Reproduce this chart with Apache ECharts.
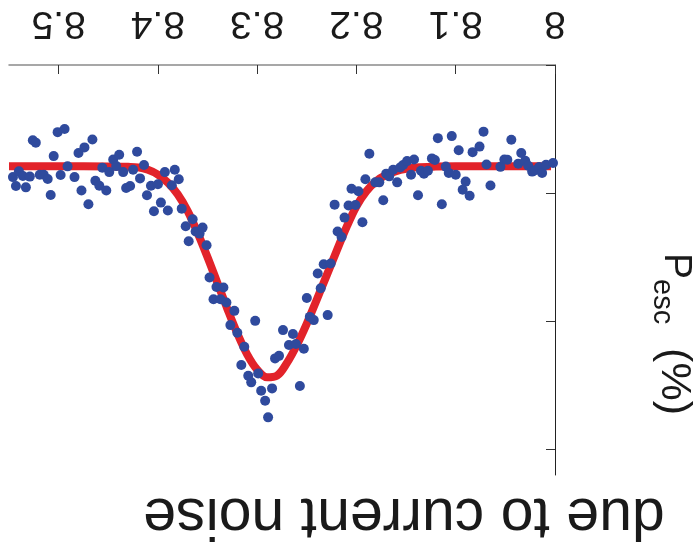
<!DOCTYPE html>
<html>
<head>
<meta charset="utf-8">
<script src="https://cdn.jsdelivr.net/npm/echarts@6/dist/echarts.min.js"></script>
<style>
  html, body { margin: 0; padding: 0; background: #ffffff; }
  #chart { width: 699px; height: 549px; }
</style>
</head>
<body>
<div id="chart"></div>
<script>
// Tick positions
const xTicks = [8.0, 8.1, 8.2, 8.3, 8.4, 8.5];
const yTicks = [0, 10, 20, 30];

// Measured escape probability (%) versus bias
const measX = [8.546,8.543,8.540,8.536,8.533,8.529,8.526,8.523,8.519,8.515,
  8.511,8.508,8.505,8.501,8.498,8.494,8.491,8.484,8.480,8.477,
  8.474,8.470,8.466,8.463,8.459,8.456,8.452,8.449,8.445,8.442,
  8.439,8.435,8.432,8.428,8.425,8.421,8.418,8.414,8.411,8.407,
  8.404,8.400,8.397,8.393,8.390,8.386,8.383,8.379,8.376,8.372,
  8.369,8.365,8.362,8.358,8.355,8.351,8.348,8.344,8.341,8.337,
  8.334,8.331,8.327,8.323,8.320,8.316,8.313,8.309,8.306,8.302,
  8.299,8.296,8.292,8.289,8.285,8.282,8.278,8.274,8.268,8.264,
  8.261,8.257,8.253,8.250,8.247,8.243,8.239,8.236,8.233,8.229,
  8.226,8.222,8.219,8.215,8.212,8.208,8.205,8.201,8.198,8.194,
  8.191,8.187,8.181,8.177,8.173,8.170,8.167,8.163,8.159,8.156,
  8.153,8.149,8.145,8.142,8.138,8.135,8.132,8.128,8.124,8.121,
  8.118,8.114,8.110,8.107,8.104,8.100,8.097,8.093,8.090,8.086,
  8.083,8.076,8.072,8.069,8.065,8.055,8.051,8.048,8.044,8.037,
  8.034,8.030,8.027,8.023,8.020,8.016,8.013,8.009,8.002];
const measY = [8.75,9.45,8.30,8.67,9.55,8.71,5.88,6.06,8.56,8.56,
  8.90,10.15,7.11,5.24,8.59,5.00,7.91,8.75,6.87,9.80,
  6.43,10.87,5.81,9.03,9.42,8.01,9.80,8.36,7.37,7.89,
  7.00,8.36,9.60,9.45,8.17,6.77,8.85,7.81,10.17,9.42,
  11.42,9.31,10.74,8.36,11.36,9.39,8.17,8.92,11.21,12.59,
  13.76,12.04,13.00,13.16,12.69,14.07,16.59,18.28,17.32,18.28,
  17.37,18.53,20.30,19.19,20.90,23.42,21.99,24.25,24.77,19.97,
  24.07,25.42,26.20,27.50,25.24,22.90,22.70,20.69,21.86,21.00,
  21.78,25.06,22.15,18.18,19.66,19.91,16.27,17.42,15.55,19.52,
  15.49,10.90,13.00,13.42,11.91,10.97,9.66,10.93,9.86,12.28,
  8.92,6.92,9.16,9.16,10.56,8.48,8.69,8.17,9.16,8.00,
  7.81,7.50,8.57,7.38,10.16,8.25,8.48,8.25,7.29,7.42,
  5.71,10.87,7.93,8.42,5.55,8.57,6.66,9.73,9.10,10.21,
  6.80,6.37,5.20,7.76,9.41,7.95,7.38,7.39,5.83,7.70,
  6.87,7.47,7.87,8.32,8.21,7.97,8.42,7.78,7.65];

// Fitted curve
const fitX = [8.55,8.50,8.45,8.43,8.42,8.41,8.40,8.39,8.38,8.37,8.36,8.35,8.34,8.33,8.32,8.31,8.30,8.29,8.28,
  8.27,8.26,8.25,8.24,8.23,8.22,8.21,8.20,8.19,8.18,8.17,8.16,8.15,8.14,8.12,8.10,8.05,8.004];
const fitY = [7.91,7.91,7.92,7.95,7.99,8.18,8.55,9.18,10.10,11.40,13.10,15.00,17.02,19.04,20.95,22.60,23.78,24.38,24.25,
  23.25,21.85,20.18,18.32,16.42,14.52,12.65,11.02,9.85,9.06,8.58,8.28,8.10,7.99,7.93,7.91,7.91,7.91];

const FONT = 'Liberation Sans, Arial, Helvetica, sans-serif';
const measData = measX.map((x, i) => [x, measY[i]]);
const fitData = fitX.map((x, i) => [x, fitY[i]]);

const chart = echarts.init(document.getElementById('chart'), null, { renderer: 'canvas' });
chart.setOption({
  animation: false,
  backgroundColor: '#ffffff',
  grid: { left: 9, right: 144, top: 65, bottom: 74, containLabel: false, outerBoundsMode: 'none' },
  xAxis: {
    type: 'value',
    position: 'top',
    inverse: true,
    min: 8.0,
    max: 8.55,
    splitLine: { show: false },
    axisLine: { show: true, lineStyle: { color: '#8a8a8a', width: 1.5 } },
    axisTick: { show: true, inside: true, length: 9, customValues: xTicks, lineStyle: { color: '#333', width: 1 } },
    axisLabel: {
      show: true, rotate: 180, margin: 23, customValues: xTicks,
      color: '#1a1a1a', fontSize: 39, fontFamily: FONT,
      formatter: v => String(+v.toFixed(1))
    }
  },
  yAxis: {
    type: 'value',
    position: 'right',
    inverse: true,
    min: 0,
    max: 32,
    splitLine: { show: false },
    axisLine: { show: true, lineStyle: { color: '#222', width: 1 } },
    axisTick: { show: true, inside: true, length: 9, customValues: yTicks, lineStyle: { color: '#333', width: 1 } },
    axisLabel: { show: false }
  },
  series: [
    {
      type: 'line',
      data: fitData,
      smooth: 0.35,
      showSymbol: false,
      lineStyle: { color: '#e2232a', width: 8, join: 'round', cap: 'butt' },
      z: 2
    },
    {
      type: 'scatter',
      data: measData,
      symbol: 'circle',
      symbolSize: 10,
      itemStyle: { color: '#2f4a9d', opacity: 1 },
      z: 3
    }
  ],
  graphic: [
    {
      type: 'text',
      x: 671, y: 334,
      rotation: -Math.PI / 2,
      style: {
        text: '{p|P}{s|esc}{n|  (%)}',
        align: 'center',
        verticalAlign: 'middle',
        fill: '#1a1a1a',
        fontFamily: FONT,
        rich: {
          p: { fontSize: 39, lineHeight: 42, verticalAlign: 'top', fontFamily: FONT, fill: '#1a1a1a' },
          s: { fontSize: 29, lineHeight: 48, verticalAlign: 'bottom', fontFamily: FONT, fill: '#1a1a1a' },
          n: { fontSize: 43, lineHeight: 46, verticalAlign: 'top', fontFamily: FONT, fill: '#1a1a1a' }
        }
      }
    },
    {
      type: 'text',
      x: 404, y: 515,
      rotation: Math.PI,
      style: {
        text: 'due to current noise',
        align: 'center',
        verticalAlign: 'middle',
        fill: '#1a1a1a',
        fontFamily: FONT,
        fontSize: 59
      }
    }
  ]
});
</script>
</body>
</html>
